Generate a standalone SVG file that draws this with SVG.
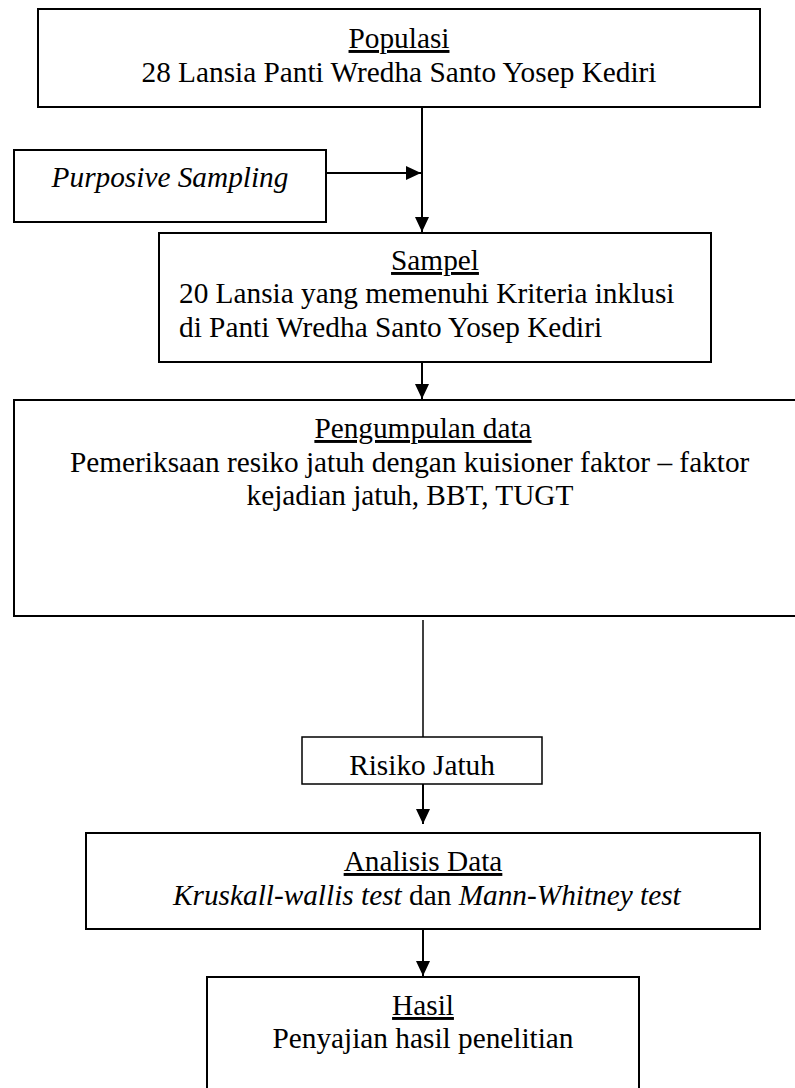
<svg xmlns="http://www.w3.org/2000/svg" width="795" height="1088" viewBox="0 0 795 1088">
<defs>
<style>
.box{fill:#fff;stroke:#000;stroke-width:2}
.t{font-family:"Liberation Serif","Times New Roman",serif;font-size:29.3px;fill:#000}
.m{text-anchor:middle}
.u{text-decoration:underline}
.i{font-style:italic}
.ln{stroke:#000;stroke-width:2;fill:none}
</style>
<marker id="ah" markerUnits="userSpaceOnUse" markerWidth="16" markerHeight="14" refX="15" refY="7" orient="auto">
<path d="M0,0 L15,7 L0,14 Z" fill="#000"/>
</marker>
</defs>
<rect width="795" height="1088" fill="#fff"/>
<g id="connectors">
<line class="ln" x1="422" y1="107" x2="422" y2="232" marker-end="url(#ah)"/>
<line class="ln" x1="326" y1="173" x2="421" y2="173" marker-end="url(#ah)"/>
<line class="ln" x1="422" y1="361" x2="422" y2="399" marker-end="url(#ah)"/>
<line class="ln" x1="423" y1="620" x2="423" y2="737" style="stroke-width:1.5"/>
<line class="ln" x1="423" y1="784" x2="423" y2="824" marker-end="url(#ah)"/>
<line class="ln" x1="423" y1="929" x2="423" y2="976" marker-end="url(#ah)"/>
</g>
<g id="populasi">
<rect class="box" x="38" y="9" width="722" height="98"/>
<text class="t m u" x="399" y="48">Populasi</text>
<text class="t m" x="399" y="82">28 Lansia Panti Wredha Santo Yosep Kediri</text>
</g>
<g id="purposive">
<rect class="box" x="14" y="150" width="312" height="72"/>
<text class="t m i" x="170" y="187">Purposive Sampling</text>
</g>
<g id="sampel">
<rect class="box" x="159" y="233" width="552" height="129"/>
<text class="t m u" x="435" y="270">Sampel</text>
<text class="t" x="179" y="303">20 Lansia yang memenuhi Kriteria inklusi</text>
<text class="t" x="179" y="337">di Panti Wredha Santo Yosep Kediri</text>
</g>
<g id="pengumpulan">
<rect class="box" x="14" y="400" width="800" height="216"/>
<text class="t m u" x="423" y="438">Pengumpulan data</text>
<text class="t" x="70" y="472">Pemeriksaan resiko jatuh dengan kuisioner faktor – faktor</text>
<text class="t m" x="410" y="505">kejadian jatuh, BBT, TUGT</text>
</g>
<g id="risiko">
<rect class="box" x="302" y="737" width="240" height="47" style="stroke-width:1.5"/>
<text class="t m" x="422" y="775">Risiko Jatuh</text>
</g>
<g id="analisis">
<rect class="box" x="86" y="833" width="674" height="96"/>
<text class="t m u" x="423" y="871">Analisis Data</text>
<text class="t" x="173" y="905"><tspan class="i">Kruskall-wallis test</tspan> dan <tspan class="i">Mann-Whitney test</tspan></text>
</g>
<g id="hasil">
<rect class="box" x="207" y="977" width="432" height="130"/>
<text class="t m u" x="423" y="1015">Hasil</text>
<text class="t m" x="423" y="1048">Penyajian hasil penelitian</text>
</g>
</svg>
